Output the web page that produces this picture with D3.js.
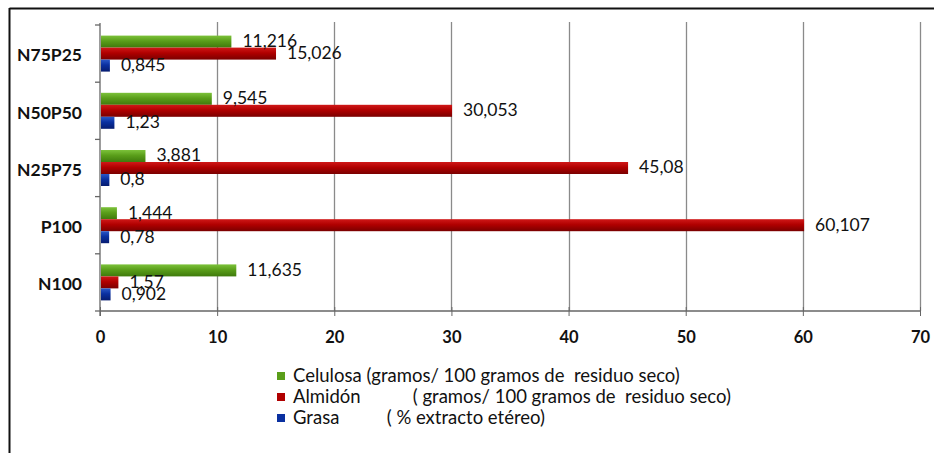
<!DOCTYPE html>
<html><head><meta charset="utf-8">
<script src="https://cdn.jsdelivr.net/npm/d3@7/dist/d3.min.js"></script>
<style>
html,body{margin:0;padding:0;background:#fff;}
svg{display:block;}
text{font-family:Lato,"Open Sans",sans-serif;fill:#111;}
</style></head><body>
<svg id="chart" width="934" height="453"></svg>
<script>
const categories = ["N75P25","N50P50","N25P75","P100","N100"];
const celulosa = [11.216, 9.545, 3.881, 1.444, 11.635];
const almidon  = [15.026, 30.053, 45.08, 60.107, 1.57];
const grasa    = [0.845, 1.23, 0.8, 0.78, 0.902];
const seriesNames = [
  "Celulosa (gramos/ 100 gramos de  residuo seco)",
  "Almidón           ( gramos/ 100 gramos de  residuo seco)",
  "Grasa          ( % extracto etéreo)"
];
const xTicks = [0,10,20,30,40,50,60,70];

const seriesVals = [celulosa, almidon, grasa];
const colors = [
  {light:"#7cc23a", mid:"#5a9e1a", dark:"#3f7a0c"},
  {light:"#d01818", mid:"#b00000", dark:"#7a0000"},
  {light:"#2a58c8", mid:"#0a30a0", dark:"#061c70"}
];

const svg = d3.select("#chart");
const defs = svg.append("defs");
colors.forEach((c,i)=>{
  const g = defs.append("linearGradient").attr("id","grad"+i).attr("x1",0).attr("x2",0).attr("y1",0).attr("y2",1);
  g.append("stop").attr("offset","0%").attr("stop-color",c.light);
  g.append("stop").attr("offset","45%").attr("stop-color",c.mid);
  g.append("stop").attr("offset","100%").attr("stop-color",c.dark);
});

// outer frame
svg.append("line").attr("x1",9.5).attr("x2",934).attr("y1",8.5).attr("y2",8.5).attr("stroke","#111").attr("stroke-width",2);
svg.append("line").attr("x1",9.5).attr("x2",9.5).attr("y1",8).attr("y2",453).attr("stroke","#111").attr("stroke-width",2);

const x = d3.scaleLinear().domain([0,70]).range([100,920]);
const y = d3.scaleBand().domain(categories).range([25,311]).paddingInner(0).paddingOuter(0);
const barH = 12;

// gridlines
svg.append("g").selectAll("line").data(xTicks.filter(t=>t>0)).join("line")
  .attr("x1",d=>Math.round(x(d))+0.5).attr("x2",d=>Math.round(x(d))+0.5)
  .attr("y1",22).attr("y2",311)
  .attr("stroke","#8a8a8a").attr("stroke-width",1.3);

// bars
const groups = svg.append("g");
seriesVals.forEach((vals,si)=>{
  groups.append("g").selectAll("rect").data(vals).join("rect")
    .attr("x",x(0)+1)
    .attr("y",(d,i)=>y(categories[i]) + y.bandwidth()/2 - 1.5*barH + si*barH)
    .attr("width",d=>x(d)-x(0)-1)
    .attr("height",barH)
    .attr("fill","url(#grad"+si+")");
});

// value labels
const fmt = v => String(v).replace(".",",");
seriesVals.forEach((vals,si)=>{
  svg.append("g").selectAll("text").data(vals).join("text")
    .attr("x",d=>x(d)+11)
    .attr("y",(d,i)=>y(categories[i]) + y.bandwidth()/2 - 1.5*barH + si*barH + barH/2 + 1)
    .attr("dominant-baseline","middle")
    .attr("font-size",17.5)
    .text(d=>fmt(d));
});

// x axis
const xAxis = d3.axisBottom(x).tickValues(xTicks).tickSize(6).tickFormat(d=>d);
const gx = svg.append("g").attr("transform","translate(0,311)").call(xAxis);
gx.select(".domain").attr("stroke","#666").attr("stroke-width",1.3).attr("d","M100,0H920");
gx.selectAll(".tick line").attr("stroke","#666").attr("y1",-4).attr("y2",5);
gx.selectAll(".tick text").attr("font-size",16.5).attr("font-weight","bold").attr("fill","#111").attr("dy",0).attr("y",32)
  .attr("font-family","Lato,'Open Sans',sans-serif");

// y axis
const yAxis = d3.axisLeft(y).tickSize(0).tickPadding(18);
const gy = svg.append("g").attr("transform","translate(100,0)").call(yAxis);
gy.select(".domain").attr("stroke","#666").attr("stroke-width",1.3).attr("d","M0,23V316");
gy.selectAll(".tick text").attr("font-size",17.5).attr("font-weight","bold").attr("fill","#111")
  .attr("font-family","Lato,'Open Sans',sans-serif").attr("dy","0.45em");
// category boundary ticks
svg.append("g").selectAll("line").data(categories.concat([null])).join("line")
  .attr("x1",95).attr("x2",100)
  .attr("y1",(d,i)=>25+i*y.step()).attr("y2",(d,i)=>25+i*y.step())
  .attr("stroke","#666").attr("stroke-width",1.3);

// legend
const leg = svg.append("g").attr("transform","translate(277,376)");
seriesNames.forEach((n,i)=>{
  const r = leg.append("g").attr("transform",`translate(0,${i*21})`);
  r.append("rect").attr("x",0).attr("y",-4).attr("width",8).attr("height",8).attr("fill",colors[i].mid);
  r.append("text").attr("x",16).attr("y",1).attr("dominant-baseline","middle")
    .attr("font-size",18.5).attr("xml:space","preserve").style("white-space","pre").text(n);
});
</script>
</body></html>
